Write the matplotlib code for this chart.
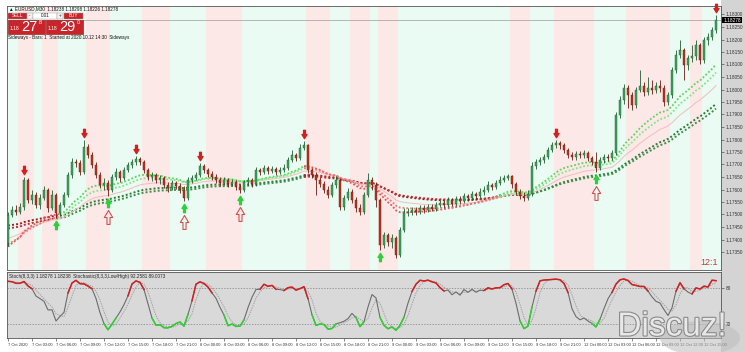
import numpy as np
import pandas as pd
import matplotlib
matplotlib.use("Agg")
import matplotlib.pyplot as plt
import matplotlib.transforms as mtransforms
import matplotlib.patheffects as pe
from matplotlib.patches import Rectangle, Ellipse
from matplotlib.path import Path

plt.rcParams['font.family'] = ['Liberation Sans', 'DejaVu Sans']

# EURUSD M30 - свічки (open = close попереднього бару)
first_open = 1.17386
close = [1.17498, 1.17518, 1.17510, 1.17530, 1.17638, 1.17558, 1.17578, 1.17538, 1.17566, 1.17598,
         1.17526, 1.17578, 1.17506, 1.17538, 1.17578, 1.17658, 1.17710, 1.17706, 1.17670, 1.17770,
         1.17738, 1.17698, 1.17658, 1.17618, 1.17626, 1.17598, 1.17650, 1.17670, 1.17646, 1.17678,
         1.17698, 1.17710, 1.17722, 1.17710, 1.17678, 1.17650, 1.17658, 1.17638, 1.17646, 1.17618,
         1.17606, 1.17626, 1.17614, 1.17598, 1.17566, 1.17638, 1.17646, 1.17658, 1.17694, 1.17678,
         1.17662, 1.17650, 1.17638, 1.17626, 1.17638, 1.17622, 1.17630, 1.17610, 1.17598, 1.17630,
         1.17638, 1.17622, 1.17678, 1.17670, 1.17686, 1.17674, 1.17682, 1.17670, 1.17678, 1.17686,
         1.17718, 1.17738, 1.17726, 1.17766, 1.17778, 1.17678, 1.17658, 1.17638, 1.17622, 1.17598,
         1.17578, 1.17618, 1.17638, 1.17530, 1.17566, 1.17590, 1.17558, 1.17526, 1.17510, 1.17578,
         1.17638, 1.17618, 1.17558, 1.17378, 1.17418, 1.17390, 1.17406, 1.17338, 1.17438, 1.17506,
         1.17510, 1.17518, 1.17510, 1.17526, 1.17518, 1.17530, 1.17522, 1.17538, 1.17546, 1.17538,
         1.17558, 1.17542, 1.17562, 1.17554, 1.17574, 1.17566, 1.17582, 1.17574, 1.17590, 1.17598,
         1.17618, 1.17610, 1.17626, 1.17638, 1.17646, 1.17654, 1.17622, 1.17590, 1.17574, 1.17566,
         1.17582, 1.17694, 1.17710, 1.17718, 1.17730, 1.17758, 1.17778, 1.17786, 1.17778, 1.17758,
         1.17738, 1.17730, 1.17742, 1.17738, 1.17746, 1.17726, 1.17710, 1.17686, 1.17718, 1.17730,
         1.17726, 1.17746, 1.17898, 1.17958, 1.18006, 1.17978, 1.17938, 1.17998, 1.18014, 1.17990,
         1.18006, 1.17998, 1.18014, 1.18006, 1.17950, 1.17978, 1.18078, 1.18138, 1.18158, 1.18098,
         1.18126, 1.18134, 1.18178, 1.18118, 1.18198, 1.18210, 1.18238, 1.18278]
high = [1.17510, 1.17534, 1.17538, 1.17546, 1.17650, 1.17646, 1.17598, 1.17590, 1.17582, 1.17614,
        1.17606, 1.17598, 1.17586, 1.17550, 1.17590, 1.17670, 1.17726, 1.17722, 1.17718, 1.17798,
        1.17782, 1.17750, 1.17710, 1.17670, 1.17646, 1.17638, 1.17662, 1.17686, 1.17678, 1.17690,
        1.17710, 1.17722, 1.17734, 1.17730, 1.17718, 1.17686, 1.17670, 1.17666, 1.17658, 1.17654,
        1.17630, 1.17638, 1.17634, 1.17626, 1.17614, 1.17650, 1.17658, 1.17670, 1.17706, 1.17702,
        1.17686, 1.17674, 1.17662, 1.17650, 1.17650, 1.17646, 1.17642, 1.17638, 1.17622, 1.17638,
        1.17650, 1.17646, 1.17690, 1.17686, 1.17698, 1.17694, 1.17694, 1.17690, 1.17690, 1.17702,
        1.17730, 1.17758, 1.17746, 1.17782, 1.17794, 1.17782, 1.17686, 1.17670, 1.17650, 1.17634,
        1.17614, 1.17630, 1.17654, 1.17646, 1.17578, 1.17606, 1.17602, 1.17570, 1.17542, 1.17590,
        1.17666, 1.17650, 1.17630, 1.17566, 1.17430, 1.17426, 1.17422, 1.17414, 1.17450, 1.17526,
        1.17526, 1.17530, 1.17530, 1.17538, 1.17538, 1.17542, 1.17542, 1.17550, 1.17558, 1.17558,
        1.17570, 1.17566, 1.17574, 1.17574, 1.17586, 1.17582, 1.17594, 1.17590, 1.17606, 1.17614,
        1.17634, 1.17626, 1.17638, 1.17654, 1.17658, 1.17662, 1.17658, 1.17630, 1.17602, 1.17590,
        1.17598, 1.17710, 1.17722, 1.17730, 1.17742, 1.17770, 1.17790, 1.17798, 1.17794, 1.17786,
        1.17766, 1.17750, 1.17754, 1.17754, 1.17758, 1.17754, 1.17734, 1.17750, 1.17730, 1.17742,
        1.17742, 1.17758, 1.17910, 1.17974, 1.18022, 1.18018, 1.17990, 1.18010, 1.18078, 1.18030,
        1.18050, 1.18038, 1.18030, 1.18038, 1.18018, 1.17990, 1.18090, 1.18158, 1.18198, 1.18166,
        1.18138, 1.18178, 1.18198, 1.18186, 1.18210, 1.18226, 1.18250, 1.18298]
low = [1.17374, 1.17490, 1.17498, 1.17502, 1.17518, 1.17546, 1.17542, 1.17526, 1.17522, 1.17558,
       1.17510, 1.17518, 1.17486, 1.17494, 1.17530, 1.17570, 1.17646, 1.17690, 1.17658, 1.17662,
       1.17726, 1.17686, 1.17646, 1.17606, 1.17598, 1.17574, 1.17590, 1.17638, 1.17630, 1.17638,
       1.17670, 1.17686, 1.17698, 1.17698, 1.17666, 1.17638, 1.17634, 1.17626, 1.17622, 1.17606,
       1.17590, 1.17598, 1.17602, 1.17586, 1.17554, 1.17558, 1.17626, 1.17638, 1.17650, 1.17666,
       1.17650, 1.17638, 1.17626, 1.17614, 1.17618, 1.17610, 1.17614, 1.17598, 1.17586, 1.17590,
       1.17618, 1.17610, 1.17614, 1.17658, 1.17662, 1.17662, 1.17666, 1.17658, 1.17662, 1.17670,
       1.17678, 1.17710, 1.17714, 1.17718, 1.17758, 1.17666, 1.17646, 1.17578, 1.17610, 1.17586,
       1.17566, 1.17570, 1.17606, 1.17518, 1.17518, 1.17558, 1.17546, 1.17510, 1.17498, 1.17502,
       1.17570, 1.17598, 1.17530, 1.17358, 1.17366, 1.17374, 1.17366, 1.17326, 1.17330, 1.17430,
       1.17494, 1.17498, 1.17498, 1.17502, 1.17506, 1.17510, 1.17514, 1.17514, 1.17530, 1.17526,
       1.17530, 1.17534, 1.17534, 1.17542, 1.17546, 1.17554, 1.17558, 1.17562, 1.17566, 1.17578,
       1.17590, 1.17598, 1.17602, 1.17618, 1.17630, 1.17638, 1.17606, 1.17578, 1.17562, 1.17554,
       1.17558, 1.17574, 1.17682, 1.17698, 1.17706, 1.17722, 1.17750, 1.17766, 1.17762, 1.17746,
       1.17726, 1.17718, 1.17718, 1.17726, 1.17726, 1.17714, 1.17698, 1.17670, 1.17678, 1.17706,
       1.17714, 1.17718, 1.17738, 1.17886, 1.17942, 1.17926, 1.17918, 1.17926, 1.17990, 1.17974,
       1.17978, 1.17982, 1.17986, 1.17990, 1.17934, 1.17938, 1.17966, 1.18066, 1.18126, 1.18038,
       1.18078, 1.18110, 1.18118, 1.18102, 1.18106, 1.18178, 1.18198, 1.18226]

# сигнали індикатора (номери барів)
sell_signals = [4, 19, 32, 48, 74, 137, 177]
buy_signals = [12, 25, 44, 58, 93, 147]
hollow_signals = [25, 44, 58, 147]

# рожеві смуги фону (бари від-до)
pink_zones = [(3, 6), (9, 12), (20, 25), (34, 40), (50, 58), (75, 80), (86, 90),
              (93, 97), (126, 130), (137, 146), (155, 165), (171, 173)]
# ділянки, де ковзні середні червоні
ma_red_zones = [(0, 12), (75, 122)]

# EMA: період і стартове значення біля лівого краю
ema_fast = [(20, 1.17358), (25, 1.17370)]
ema_thin = (34, 1.17398)
ema_slow = [(50, 1.17454), (55, 1.17442)]

price_ticks = [1.17350, 1.17400, 1.17450, 1.17500, 1.17550, 1.17600, 1.17650, 1.17700,
               1.17750, 1.17800, 1.17850, 1.17900, 1.17950, 1.18000, 1.18050, 1.18100,
               1.18150, 1.18200, 1.18250, 1.18300]
time_labels = ["7 Oct 2020", "7 Oct 03:00", "7 Oct 06:00", "7 Oct 09:00", "7 Oct 12:00",
               "7 Oct 15:00", "7 Oct 18:00", "7 Oct 21:00", "8 Oct 00:00", "8 Oct 03:00",
               "8 Oct 06:00", "8 Oct 09:00", "8 Oct 12:00", "8 Oct 15:00", "8 Oct 18:00",
               "8 Oct 21:00", "9 Oct 00:00", "9 Oct 03:00", "9 Oct 06:00", "9 Oct 09:00",
               "9 Oct 12:00", "9 Oct 15:00", "9 Oct 18:00", "9 Oct 21:00", "12 Oct 00:00",
               "12 Oct 03:00", "12 Oct 06:00", "12 Oct 09:00", "12 Oct 12:00", "12 Oct 15:00"]
label_step = 6

close = np.array(close)
high = np.array(high)
low = np.array(low)
opn = np.r_[first_open, close[:-1]]
n = len(close)
idx = np.arange(n)


def ema(values, period, seed):
    a = 2.0 / (period + 1)
    out = []
    prev = seed
    for v in values:
        prev = prev + a * (v - prev)
        out.append(prev)
    return np.array(out)


def widen(mask):
    return mask | np.r_[mask[1:], False] | np.r_[False, mask[:-1]]


red_state = np.zeros(n, bool)
for a, b in ma_red_zones:
    red_state[a:b + 1] = True

# стохастик (8,3,3)
hh = pd.Series(high).rolling(8, min_periods=1).max()
ll = pd.Series(low).rolling(8, min_periods=1).min()
num = (pd.Series(close) - ll).rolling(3, min_periods=1).sum()
den = (hh - ll).rolling(3, min_periods=1).sum()
stoch_main = (100 * num / den).to_numpy()
stoch_sig = pd.Series(stoch_main).rolling(3, min_periods=1).mean().to_numpy()

W, H = 745, 352
fig = plt.figure(figsize=(7.45, 3.52), dpi=100)
fig.patch.set_facecolor('white')


def frac(x0, y0, x1, y1):
    return [x0 / W, 1 - y1 / H, (x1 - x0) / W, (y1 - y0) / H]


bg = fig.add_axes([0, 0, 1, 1], zorder=0)
bg.set_xlim(0, W)
bg.set_ylim(H, 0)
bg.axis('off')
bg.add_patch(Rectangle((721, 0), 24, H, color='#d4d4d4', lw=0))

ax = fig.add_axes(frac(7, 6, 721, 270), zorder=1)
ax2 = fig.add_axes(frac(7, 272, 721, 338), zorder=1, sharex=ax)

# основна панель
ax.set_facecolor('#e9fbf3')
for a, b in pink_zones:
    ax.axvspan(a - 0.5, b + 0.5, color='#fde8e8', lw=0, zorder=0)

dots = (0, (1, 1.1))
for (p, s), cg, cr in zip(ema_slow, ['#2e7d3a', '#3d8f47'], ['#a11c1c', '#b83030']):
    e = ema(close, p, s)
    ax.plot(idx, np.where(widen(~red_state), e, np.nan), color=cg, lw=1.4, ls=dots, zorder=2)
    ax.plot(idx, np.where(widen(red_state), e, np.nan), color=cr, lw=1.4, ls=dots, zorder=2)
e = ema(close, *ema_thin)
ax.plot(idx, e, color='#f3bcbc', lw=0.7, zorder=2)
for (p, s), cg, cr in zip(ema_fast, ['#5cd65c', '#86e486'], ['#e05555', '#ec7a7a']):
    e = ema(close, p, s)
    ax.plot(idx, np.where(widen(~red_state), e, np.nan), color=cg, lw=1.3, ls=dots, zorder=2)
    ax.plot(idx, np.where(widen(red_state), e, np.nan), color=cr, lw=1.3, ls=dots, zorder=2)

up = close >= opn
body_col = np.where(up, '#3aa65a', '#b5371f')
wick_col = np.where(up, '#1f5a2f', '#6a1c10')
ax.vlines(idx, low, high, colors=wick_col, lw=0.6, zorder=3)
body_h = np.maximum(np.abs(close - opn), 0.000012)
ax.bar(idx, body_h, bottom=np.minimum(close, opn), width=0.62, color=body_col,
       edgecolor=wick_col, linewidth=0.3, zorder=4)

# стрілки сигналів
shaft = [(-0.22, -1.0), (0.22, -1.0), (0.22, 0.0), (0.6, 0.0), (0.0, 1.0), (-0.6, 0.0), (-0.22, 0.0), (-0.22, -1.0)]
codes = [Path.MOVETO] + [Path.LINETO] * 6 + [Path.CLOSEPOLY]
up_arrow = Path(shaft, codes)
down_arrow = Path([(x, -y) for x, y in shaft], codes)
above = mtransforms.offset_copy(ax.transData, fig=fig, y=7, units='dots')
below = mtransforms.offset_copy(ax.transData, fig=fig, y=-7, units='dots')
far_below = mtransforms.offset_copy(ax.transData, fig=fig, y=-21, units='dots')
ax.plot(sell_signals, high[sell_signals], ls='none', marker=down_arrow, ms=6,
        color='#d41f1f', transform=above, zorder=5, clip_on=False)
ax.plot(buy_signals, low[buy_signals], ls='none', marker=up_arrow, ms=6,
        color='#2fcf3a', transform=below, zorder=5)
ax.plot(hollow_signals, low[hollow_signals], ls='none', marker=up_arrow, ms=10,
        mfc='none', mec='#d25050', mew=0.8, transform=far_below, zorder=5)

ax.axhline(close[-1], color='#9c9c9c', lw=0.5, zorder=1)
ax.set_xlim(-0.25, n + 0.25)
ax.set_ylim(1.17278, 1.18334)
ax.yaxis.tick_right()
ax.set_yticks(price_ticks)
ax.yaxis.set_major_formatter(matplotlib.ticker.FormatStrFormatter('%.5f'))
ax.tick_params(axis='y', labelsize=3.4, length=2, width=0.4, pad=1.2, colors='#333333')
ax.tick_params(axis='x', bottom=False, labelbottom=False)
blend = mtransforms.blended_transform_factory(ax.transAxes, ax.transData)
ax.text(1.003, close[-1], f'{close[-1]:.5f}', transform=blend, fontsize=3.4, color='white',
        va='center', ha='left', zorder=6, clip_on=False,
        bbox=dict(boxstyle='square,pad=0.2', fc='black', ec='none'))
ax.text(0.995, 0.01, '12:1', transform=ax.transAxes, ha='right', va='bottom',
        color='#c83c3c', fontsize=6.5)

# нижня панель - стохастик
ax2.set_facecolor('#d9d9d9')
ax2.axhline(80, color='#808080', lw=0.5, ls=(0, (2, 2)))
ax2.axhline(20, color='#808080', lw=0.5, ls=(0, (2, 2)))
ax2.plot(idx, stoch_sig, color='#a2a2a2', lw=0.7, ls=(0, (1.5, 1)))
ax2.plot(idx, stoch_main, color='#6c6c6c', lw=0.8)
ax2.plot(idx, np.where(widen(stoch_main > 80), stoch_main, np.nan), color='#d42020', lw=1.1)
ax2.plot(idx, np.where(widen(stoch_main < 20), stoch_main, np.nan), color='#2fd02f', lw=1.1)
ax2.set_ylim(-3.3, 106.7)
ax2.yaxis.tick_right()
ax2.set_yticks([20, 80])
ax2.tick_params(axis='y', labelsize=3.4, length=2, width=0.4, pad=1.2, colors='#333333')
ax2.set_xticks(np.arange(len(time_labels)) * label_step)
ax2.set_xticklabels(time_labels)
ax2.tick_params(axis='x', labelsize=2.9, length=2, width=0.4, pad=1.5, colors='#333333')
for lbl in ax2.get_xticklabels():
    lbl.set_ha('left')
ax2.text(0.003, 0.975, f'Stoch(8,3,3) {close[-1]:.5f} {opn[-1]:.5f}  Stochastic(8,3,3,Low/High) '
         f'{stoch_main[-1]:.4f} {stoch_sig[-1]:.4f}', transform=ax2.transAxes,
         fontsize=3.3, va='top', color='#222222')

for a_ in (ax, ax2):
    for sp in a_.spines.values():
        sp.set_color('#555555')
        sp.set_linewidth(0.6)

# торгова панель і текст у лівому верхньому куті
fg = fig.add_axes([0, 0, 1, 1], zorder=5)
fg.set_xlim(0, W)
fg.set_ylim(H, 0)
fg.axis('off')
fg.patch.set_alpha(0)
fg.text(9, 8.5, f'\u25B2 EURUSD,M30  {opn[-1]:.5f} {high[-1]:.5f} {low[-1]:.5f} {close[-1]:.5f}',
        fontsize=3.3, va='center', color='#111111')
red = '#c8242a'
for x0, w, fc, txt, col in [(8, 19, red, 'SELL', 'white'), (27, 6, '#f2f2f2', '-', '#333333'),
                            (33, 24, 'white', '0.01', '#111111'), (57, 6, '#f2f2f2', '+', '#333333'),
                            (64, 19, red, 'BUY', 'white')]:
    fg.add_patch(Rectangle((x0, 12.5), w, 6.5, fc=fc, ec='#9a9a9a', lw=0.3))
    fg.text(x0 + w / 2, 15.9, txt, fontsize=3.3, color=col, ha='center', va='center')
for x0, big, small in [(8, '27', '8'), (46, '29', '0')]:
    fg.add_patch(Rectangle((x0, 20), 37, 13.5, fc=red, ec='#8a1414', lw=0.4))
    fg.text(x0 + 2, 31.5, '1.18', fontsize=3.6, color='white', va='bottom')
    fg.text(x0 + 13, 27.2, big, fontsize=10.5, color='white', va='center')
    fg.text(x0 + 30.5, 22.5, small, fontsize=4, color='white', va='center')
fg.text(8, 37.5, 'Sideways - Bars: 1  Started at 2020.10.12 14:30  Sideways', fontsize=3.3,
        va='center', color='#111111')

# водяний знак форуму
fg.add_patch(Ellipse((700, 338), 80, 34, color='#bdbdbd', alpha=0.55, lw=0))
fg.text(672, 327, 'Discuz!', fontsize=24, family='Liberation Sans', color='#e8e8e8',
        ha='center', va='center',
        path_effects=[pe.withStroke(linewidth=1.6, foreground='#8a8a8a')])

fig.savefig('out.png', dpi=100, facecolor=fig.get_facecolor())
